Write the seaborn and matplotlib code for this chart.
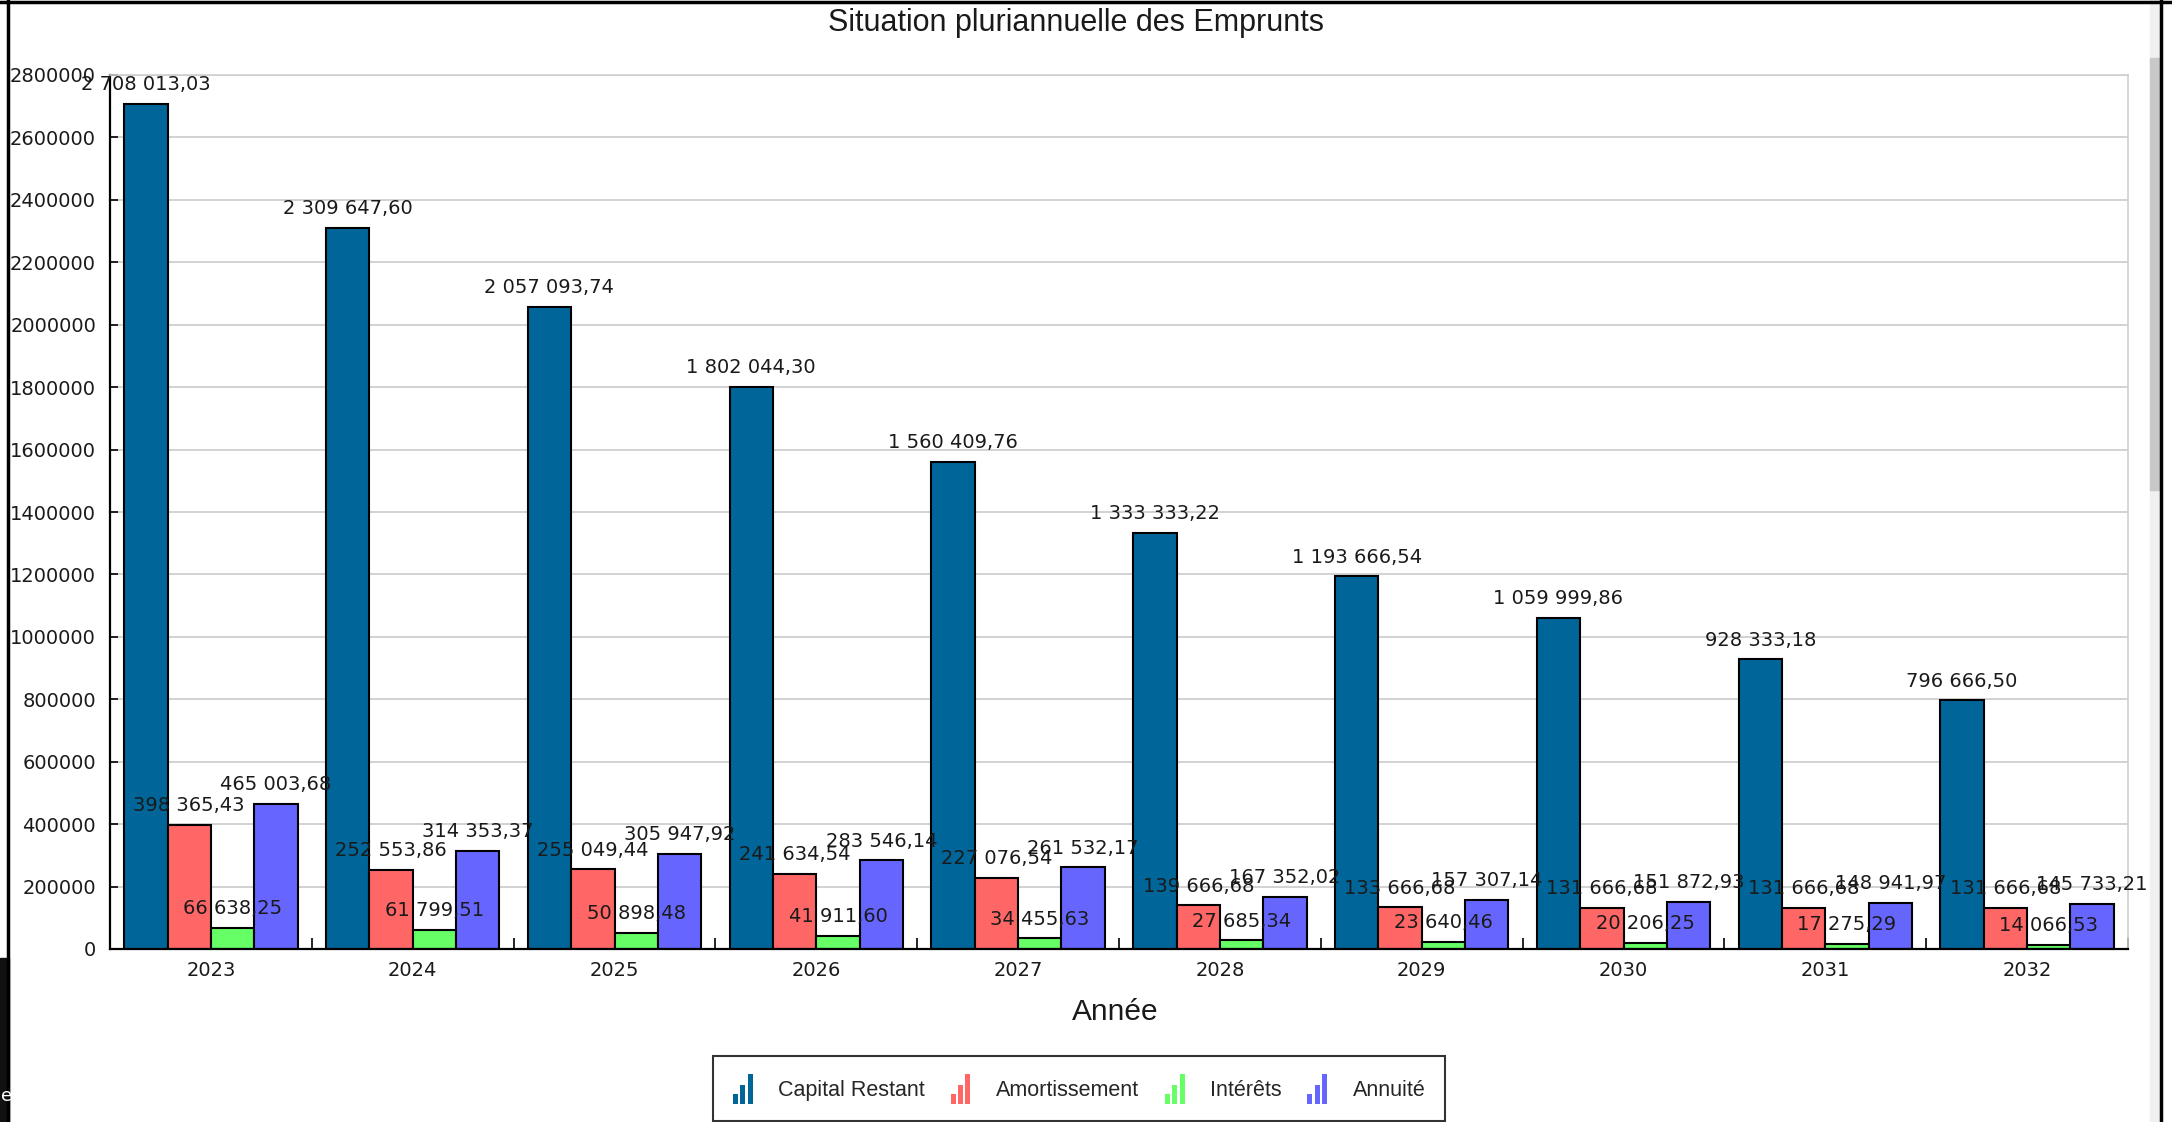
import numpy as np
import pandas as pd
import matplotlib.pyplot as plt
import seaborn as sns
from matplotlib.patches import Patch, Rectangle
from matplotlib.legend_handler import HandlerBase
from matplotlib.ticker import FuncFormatter, MultipleLocator, FixedLocator

annees = ['2023', '2024', '2025', '2026', '2027', '2028', '2029', '2030', '2031', '2032']
capital_restant = [2708013.03, 2309647.60, 2057093.74, 1802044.30, 1560409.76,
                   1333333.22, 1193666.54, 1059999.86, 928333.18, 796666.50]
amortissement = [398365.43, 252553.86, 255049.44, 241634.54, 227076.54,
                 139666.68, 133666.68, 131666.68, 131666.68, 131666.68]
interets = [66638.25, 61799.51, 50898.48, 41911.60, 34455.63,
            27685.34, 23640.46, 20206.25, 17275.29, 14066.53]
annuite = [465003.68, 314353.37, 305947.92, 283546.14, 261532.17,
           167352.02, 157307.14, 151872.93, 148941.97, 145733.21]

series = ['Capital Restant', 'Amortissement', 'Intérêts', 'Annuité']
couleurs = ['#006699', '#FF6666', '#66FF66', '#6666FF']

df = pd.DataFrame({
    'Année': annees * 4,
    'Série': np.repeat(series, len(annees)),
    'Montant': capital_restant + amortissement + interets + annuite,
})


def fmt_fr(v):
    # 2 708 013,03
    return f"{v:,.2f}".replace(",", " ").replace(".", ",")


class BarIcon(HandlerBase):
    # petite icone "histogramme" comme dans la légende d'origine
    def create_artists(self, legend, orig_handle, xdescent, ydescent,
                       width, height, fontsize, trans):
        color = orig_handle.get_facecolor()
        x0, y0 = -xdescent, -ydescent
        w = width / 4.2
        arts = []
        for i, h in enumerate([0.35, 0.65, 1.0]):
            r = Rectangle((x0 + i * w * 1.45, y0 - height * 0.1), w, height * h * 1.15,
                          facecolor=color, edgecolor='none', transform=trans)
            arts.append(r)
        return arts


sns.set_style('white')
plt.rcParams['font.family'] = ['DejaVu Sans']

W, H = 2172, 1122
fig = plt.figure(figsize=(W / 100, H / 100), dpi=100)
ax = fig.add_axes([110 / W, 1 - 949 / H, 2018 / W, 874 / H])

sns.barplot(data=df, x='Année', y='Montant', hue='Série', hue_order=series,
            palette=couleurs, saturation=1, width=0.86, edgecolor='black',
            linewidth=1.5, errorbar=None, legend=False, ax=ax)

for cont in ax.containers:
    ax.bar_label(cont, labels=[fmt_fr(v) for v in cont.datavalues], padding=7,
                 fontsize=14, color='#1a1a1a')

ax.set_xlim(-0.5, len(annees) - 0.5)
ax.set_ylim(0, 2800000)
ax.yaxis.set_major_locator(MultipleLocator(200000))
ax.yaxis.set_major_formatter(FuncFormatter(lambda v, p: f"{int(v)}"))
ax.xaxis.set_minor_locator(FixedLocator(np.arange(0.5, len(annees), 1)))
ax.grid(axis='y', color='#d2d2d2', linewidth=1.4)
ax.set_axisbelow(True)

ax.tick_params(axis='y', which='major', direction='in', length=6, width=1.2,
               labelsize=14, pad=10, color='black', labelcolor='#1a1a1a', left=True)
ax.tick_params(axis='x', which='major', length=0, labelsize=14, pad=9,
               labelcolor='#1a1a1a')
ax.tick_params(axis='x', which='minor', direction='in', length=8, width=1.2,
               color='black', bottom=True)

for s in ['left', 'bottom']:
    ax.spines[s].set_color('black')
    ax.spines[s].set_linewidth(1.6)
for s in ['top', 'right']:
    ax.spines[s].set_color('#cfcfcf')
    ax.spines[s].set_linewidth(1.2)

ax.set_ylabel('')
ax.set_xlabel('Année', fontsize=21.5, family='Liberation Sans', color='#1a1a1a')
ax.xaxis.set_label_coords(0.498, -0.056)

fig.text(1076 / W, 1 - 23 / H, 'Situation pluriannuelle des Emprunts',
         ha='center', va='center', fontsize=22, family='Liberation Sans', color='#1a1a1a')

handles = [Patch(facecolor=c) for c in couleurs]
leg = fig.legend(handles, series, loc='upper center',
                 bbox_to_anchor=(1079 / W, 1 - 1056 / H), ncol=4,
                 frameon=True, fancybox=False, edgecolor='black',
                 prop={'family': 'Liberation Sans', 'size': 15.5},
                 handler_map={Patch: BarIcon()}, handlelength=1.0,
                 handleheight=1.5, handletextpad=1.1, columnspacing=1.2,
                 borderpad=0.9, borderaxespad=0)
leg.get_frame().set_linewidth(1.5)

# cadre de la capture d'écran
fig.add_artist(plt.Line2D([0, 1], [1 - 2 / H, 1 - 2 / H], color='black', linewidth=2.5))
fig.add_artist(plt.Line2D([8 / W, 8 / W], [0, 1], color='black', linewidth=2.5))
fig.add_artist(Rectangle((0, 0), 9 / W, (H - 958) / H, color='#111111', transform=fig.transFigure))
fig.text(1 / W, 1 - 1096 / H, 'e', color='white', fontsize=13, ha='left', va='center')
fig.add_artist(Rectangle((2150 / W, 0), 10 / W, 1, color='#f0f0f0', transform=fig.transFigure))
fig.add_artist(Rectangle((2150 / W, 1 - 490 / H), 10 / W, 432 / H, color='#c8c8c8',
                         transform=fig.transFigure))
fig.add_artist(plt.Line2D([2161 / W, 2161 / W], [0, 1], color='black', linewidth=2.5))

fig.savefig('out.png', dpi=100)
